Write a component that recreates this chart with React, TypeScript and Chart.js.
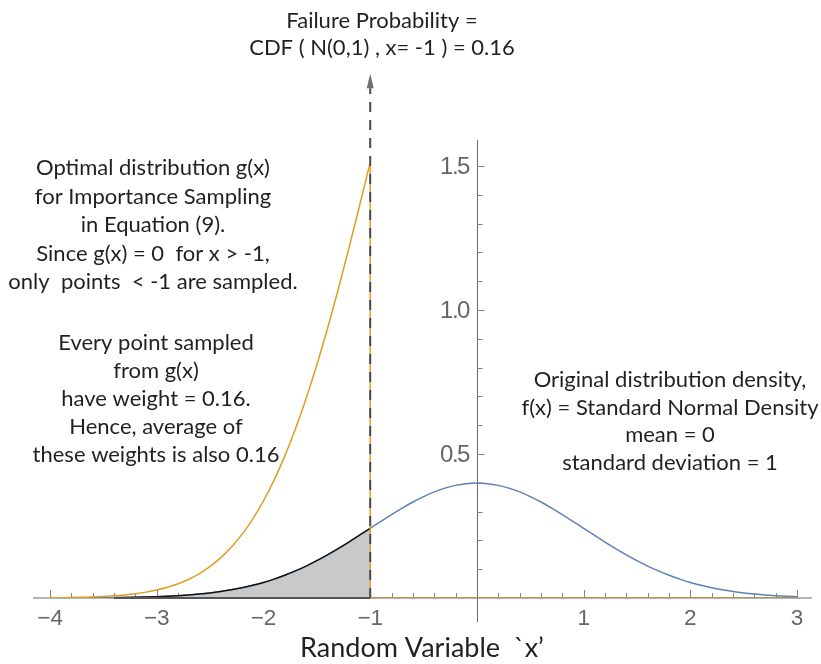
import React, { useEffect, useRef } from "react";
import { Chart, registerables } from "chart.js";

Chart.register(...registerables);

// ---------- data ----------
const densityX = [
  -4.0, -3.9, -3.8, -3.7, -3.6, -3.5, -3.4, -3.3, -3.2, -3.1,
  -3.0, -2.9, -2.8, -2.7, -2.6, -2.5, -2.4, -2.3, -2.2, -2.1,
  -2.0, -1.9, -1.8, -1.7, -1.6, -1.5, -1.4, -1.3, -1.2, -1.1,
  -1.0, -0.9, -0.8, -0.7, -0.6, -0.5, -0.4, -0.3, -0.2, -0.1,
  0.0, 0.1, 0.2, 0.3, 0.4, 0.5, 0.6, 0.7, 0.8, 0.9,
  1.0, 1.1, 1.2, 1.3, 1.4, 1.5, 1.6, 1.7, 1.8, 1.9,
  2.0, 2.1, 2.2, 2.3, 2.4, 2.5, 2.6, 2.7, 2.8, 2.9, 3.0,
];
const densityY = [
  0.0001, 0.0002, 0.0003, 0.0004, 0.0006, 0.0009, 0.0012, 0.0017, 0.0024, 0.0033,
  0.0044, 0.006, 0.0079, 0.0104, 0.0136, 0.0175, 0.0224, 0.0283, 0.0355, 0.044,
  0.054, 0.0656, 0.079, 0.094, 0.1109, 0.1295, 0.1497, 0.1714, 0.1942, 0.2179,
  0.242, 0.2661, 0.2897, 0.3123, 0.3332, 0.3521, 0.3683, 0.3814, 0.391, 0.397,
  0.3989, 0.397, 0.391, 0.3814, 0.3683, 0.3521, 0.3332, 0.3123, 0.2897, 0.2661,
  0.242, 0.2179, 0.1942, 0.1714, 0.1497, 0.1295, 0.1109, 0.094, 0.079, 0.0656,
  0.054, 0.044, 0.0355, 0.0283, 0.0224, 0.0175, 0.0136, 0.0104, 0.0079, 0.006, 0.0044,
];

const shadedX = [
  -3.4, -3.3, -3.2, -3.1, -3.0, -2.9, -2.8, -2.7, -2.6, -2.5,
  -2.4, -2.3, -2.2, -2.1, -2.0, -1.9, -1.8, -1.7, -1.6, -1.5,
  -1.4, -1.3, -1.2, -1.1, -1.0,
];
const shadedY = [
  0.0012, 0.0017, 0.0024, 0.0033, 0.0044, 0.006, 0.0079, 0.0104, 0.0136, 0.0175,
  0.0224, 0.0283, 0.0355, 0.044, 0.054, 0.0656, 0.079, 0.094, 0.1109, 0.1295,
  0.1497, 0.1714, 0.1942, 0.2179, 0.242,
];

const optimalX = [
  -4.0, -3.9, -3.8, -3.7, -3.6, -3.5, -3.4, -3.3, -3.2, -3.1,
  -3.0, -2.9, -2.8, -2.7, -2.6, -2.5, -2.4, -2.3, -2.2, -2.1,
  -2.0, -1.9, -1.8, -1.7, -1.6, -1.5, -1.4, -1.3, -1.2, -1.1, -1.0,
];
const optimalY = [
  0.0008, 0.0012, 0.0018, 0.0027, 0.0038, 0.0055, 0.0077, 0.0108, 0.0149, 0.0204,
  0.0277, 0.0372, 0.0495, 0.0651, 0.0849, 0.1096, 0.14, 0.177, 0.2217, 0.2749,
  0.3374, 0.4101, 0.4934, 0.5878, 0.6933, 0.8095, 0.9358, 1.0711, 1.2137, 1.3616, 1.5123,
];
// g(x) drops to zero at the threshold and stays zero
const optimalTailX = [-1.0, -1.0, 3.0];
const optimalTailY = [1.5123, 0, 0];

const thresholdX = [-1.0, -1.0];
const thresholdY = [0, 1.77];
const arrowTipY = 1.82;

const xTickValues = [-4, -3, -2, -1, 1, 2, 3];
const xTickLabels = ["\u22124", "\u22123", "\u22122", "\u22121", "1", "2", "3"];
const xMinorTicks = [
  -3.8, -3.6, -3.4, -3.2, -2.8, -2.6, -2.4, -2.2, -1.8, -1.6, -1.4, -1.2,
  -0.8, -0.6, -0.4, -0.2, 0.2, 0.4, 0.6, 0.8, 1.2, 1.4, 1.6, 1.8,
  2.2, 2.4, 2.6, 2.8,
];
const yTickValues = [0.5, 1.0, 1.5];
const yTickLabels = ["0.5", "1.0", "1.5"];
const yMinorTicks = [0.1, 0.2, 0.3, 0.4, 0.6, 0.7, 0.8, 0.9, 1.1, 1.2, 1.3, 1.4];

const titleLines = ["Failure Probability =", "CDF ( N(0,1) , x= -1 ) = 0.16"];
const leftNoteLines = [
  "Optimal distribution g(x)",
  "for Importance Sampling",
  "in Equation (9).",
  "Since g(x) = 0  for x > -1,",
  "only  points  < -1 are sampled.",
];
const weightNoteLines = [
  "Every point sampled",
  "from g(x)",
  "have weight = 0.16.",
  "Hence, average of",
  "these weights is also 0.16",
];
const rightNoteLines = [
  "Original distribution density,",
  "f(x) = Standard Normal Density",
  "mean = 0",
  "standard deviation = 1",
];
const xAxisTitle = "Random Variable  `x\u2019";

// ---------- helpers ----------
const pts = (xs: number[], ys: number[]) => xs.map((x, i) => ({ x, y: ys[i] }));

const TEXT_FONT = "Lato";
const TEXT_COLOR = "#231f20";

const decorPlugin = {
  id: "decor",
  beforeDatasetsDraw(chart: any) {
    const ctx = chart.ctx as CanvasRenderingContext2D;
    const xs = chart.scales.x;
    const ys = chart.scales.y;
    const { left, right, top } = chart.chartArea;
    const y0 = ys.getPixelForValue(0);
    const x0 = xs.getPixelForValue(0);
    ctx.save();
    // x axis line
    ctx.strokeStyle = "#b4b4b4";
    ctx.lineWidth = 2;
    ctx.beginPath();
    ctx.moveTo(left, y0);
    ctx.lineTo(right, y0);
    ctx.stroke();
    // x ticks (pointing up)
    ctx.strokeStyle = "#858585";
    ctx.lineWidth = 1;
    ctx.beginPath();
    for (const v of xTickValues) {
      const px = Math.round(xs.getPixelForValue(v)) + 0.5;
      ctx.moveTo(px, y0);
      ctx.lineTo(px, y0 - 8);
    }
    for (const v of xMinorTicks) {
      const px = Math.round(xs.getPixelForValue(v)) + 0.5;
      ctx.moveTo(px, y0);
      ctx.lineTo(px, y0 - 5);
    }
    ctx.stroke();
    // y axis line
    ctx.strokeStyle = "#6e6e6e";
    ctx.beginPath();
    const ax = Math.round(x0) + 0.5;
    ctx.moveTo(ax, top);
    ctx.lineTo(ax, y0 + 24);
    ctx.stroke();
    // y ticks (pointing right)
    ctx.strokeStyle = "#858585";
    ctx.beginPath();
    for (const v of yTickValues) {
      const py = Math.round(ys.getPixelForValue(v)) + 0.5;
      ctx.moveTo(ax, py);
      ctx.lineTo(ax + 7, py);
    }
    for (const v of yMinorTicks) {
      const py = Math.round(ys.getPixelForValue(v)) + 0.5;
      ctx.moveTo(ax, py);
      ctx.lineTo(ax + 5, py);
    }
    ctx.stroke();

    // tick labels
    ctx.fillStyle = "#666666";
    ctx.font = "22.5px 'Liberation Sans'";
    ctx.textAlign = "center";
    ctx.textBaseline = "alphabetic";
    xTickValues.forEach((v, i) => {
      ctx.fillText(xTickLabels[i], xs.getPixelForValue(v), y0 + 27);
    });
    ctx.font = "24px 'Liberation Sans'";
    (ctx as any).letterSpacing = "-1.5px";
    ctx.textAlign = "right";
    ctx.textBaseline = "middle";
    yTickValues.forEach((v, i) => {
      ctx.fillText(yTickLabels[i], x0 - 8, ys.getPixelForValue(v) + 1);
    });
    (ctx as any).letterSpacing = "0px";
    ctx.restore();
  },
  afterDatasetsDraw(chart: any) {
    const ctx = chart.ctx as CanvasRenderingContext2D;
    const xs = chart.scales.x;
    const ys = chart.scales.y;
    const y0 = ys.getPixelForValue(0);
    ctx.save();
    // dark base of the shaded region
    ctx.strokeStyle = "#555555";
    ctx.lineWidth = 2;
    ctx.beginPath();
    ctx.moveTo(xs.getPixelForValue(shadedX[0]), y0);
    ctx.lineTo(xs.getPixelForValue(shadedX[shadedX.length - 1]), y0);
    ctx.stroke();
    // arrow head
    const axp = xs.getPixelForValue(thresholdX[0]);
    const tip = ys.getPixelForValue(arrowTipY);
    const base = ys.getPixelForValue(thresholdY[1]);
    ctx.fillStyle = "#707070";
    ctx.beginPath();
    ctx.moveTo(axp, tip);
    ctx.lineTo(axp - 3.5, base);
    ctx.lineTo(axp + 3.5, base);
    ctx.closePath();
    ctx.fill();

    // annotation texts
    ctx.fillStyle = TEXT_COLOR;
    ctx.textAlign = "center";
    ctx.textBaseline = "alphabetic";
    ctx.font = `22px ${TEXT_FONT}`;
    titleLines.forEach((t, i) => ctx.fillText(t, 382, 28 + i * 27));
    leftNoteLines.forEach((t, i) => ctx.fillText(t, 153, 175 + i * 28.5));
    weightNoteLines.forEach((t, i) => ctx.fillText(t, 156, 350 + i * 28));
    rightNoteLines.forEach((t, i) => ctx.fillText(t, 670, 387 + i * 27.7));
    ctx.font = `27px ${TEXT_FONT}`;
    ctx.fillText(xAxisTitle, 422, 657);
    ctx.restore();
  },
};

export default function App() {
  const ref = useRef<HTMLCanvasElement | null>(null);
  useEffect(() => {
    if (!ref.current) return;
    const chart = new Chart(ref.current, {
      type: "line",
      data: {
        datasets: [
          {
            label: "threshold",
            data: pts(thresholdX, thresholdY),
            borderColor: "#4a4a4a",
            borderWidth: 2,
            borderDash: [10, 8],
            pointRadius: 0,
            fill: false,
            clip: false as any,
            order: 0,
          },
          {
            label: "g(x) tail",
            data: pts(optimalTailX, optimalTailY),
            borderColor: "#e19c24",
            borderWidth: 1.5,
            pointRadius: 0,
            fill: false,
            segment: {
              borderColor: (c: any) => (c.p0.parsed.y === 0 && c.p1.parsed.y === 0 ? "#b89452" : "#e19c24"),
              borderWidth: (c: any) => (c.p0.parsed.y === 0 && c.p1.parsed.y === 0 ? 2 : 1.5),
            },
            order: 1,
          },
          {
            label: "g(x)",
            data: pts(optimalX, optimalY),
            borderColor: "#e19c24",
            borderWidth: 1.5,
            pointRadius: 0,
            cubicInterpolationMode: "monotone",
            fill: false,
            order: 2,
          },
          {
            label: "failure region",
            data: pts(shadedX, shadedY),
            borderColor: "#111111",
            borderWidth: 1.5,
            backgroundColor: "#c8c9cb",
            pointRadius: 0,
            cubicInterpolationMode: "monotone",
            fill: "origin",
            order: 3,
          },
          {
            label: "f(x)",
            data: pts(densityX, densityY),
            borderColor: "#5e81b5",
            borderWidth: 1.5,
            pointRadius: 0,
            cubicInterpolationMode: "monotone",
            fill: false,
            order: 4,
          },
        ],
      },
      options: {
        animation: false,
        responsive: false,
        devicePixelRatio: 1,
        parsing: true,
        layout: { padding: { left: 33, right: 9, top: 140, bottom: 66 } },
        plugins: { legend: { display: false }, tooltip: { enabled: false }, title: { display: false } },
        scales: {
          x: { type: "linear", min: -4.16, max: 3.14, display: false },
          y: { type: "linear", min: 0, max: 1.59, display: false },
        },
      },
      plugins: [decorPlugin],
    });
    return () => chart.destroy();
  }, []);
  return (
    <div style={{ position: "fixed", left: 0, top: 0, width: 821, height: 664, background: "#ffffff" }}>
      <canvas ref={ref} width={821} height={664} />
    </div>
  );
}
